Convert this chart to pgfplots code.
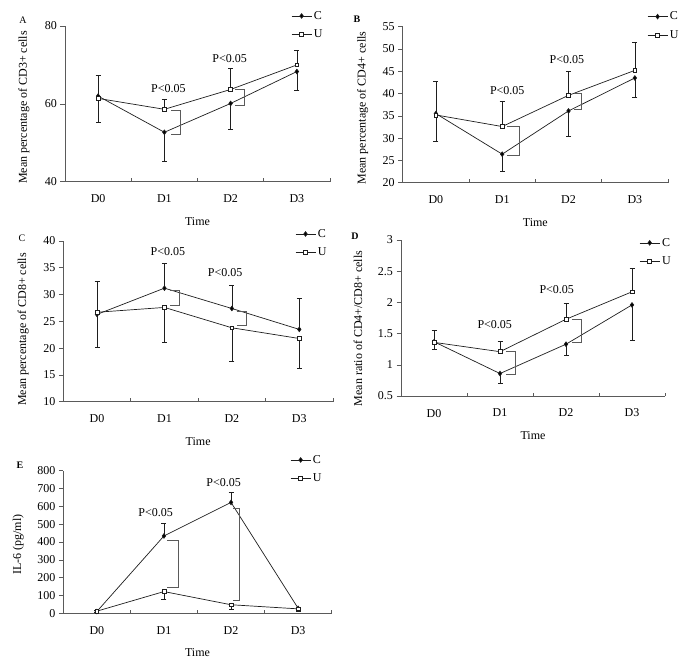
\documentclass[border=0pt]{standalone}
\usepackage{fontspec}
\setmainfont{Liberation Serif}
\usepackage{pgfplots}
\pgfplotsset{compat=1.18}
\definecolor{ln}{HTML}{1E1E1E}
\definecolor{ax}{HTML}{5A5A5A}
\pgfplotsset{
  panel/.style={
    scale only axis,
    axis lines*=left,
    axis line style={ax, line width=0.6pt},
    xmin=0, xmax=4,
    xtick={0.5,1.5,2.5,3.5},
    xticklabels={D0,D1,D2,D3},
    xtick style={draw=none},
    ytick style={ax, line width=0.6pt},
    tick align=outside,
    major tick length=4.5pt,
    font=\fontsize{12}{14}\selectfont,
    /pgf/number format/assume math mode=true,
    xticklabel style={yshift=-5pt},
    xlabel={Time},
    xlabel style={at={([yshift=-39.5pt]axis description cs:0.5,0)}, anchor=center},
    clip=false,
    legend style={draw=none, fill=none, anchor=north west, inner sep=0pt, row sep=5pt,
      font=\fontsize{12}{13}\selectfont, cells={anchor=west}},
    legend image code/.code={\draw[mark repeat=2,mark phase=2] plot coordinates {(0pt,0pt)(10pt,0pt)(20pt,0pt)};},
    after end axis/.code={\foreach \rr in {0.25,0.5,0.75,1}{\draw[ax, line width=0.6pt] (rel axis cs:\rr,0) -- ++(0,3.5pt);}},
  },
  cser/.style={ln, line width=0.7pt, mark=diamond*, mark size=2.3pt, mark options={fill=black, solid}},
  user/.style={ln, line width=0.7pt, mark=square*, mark size=1.9pt, mark options={fill=white, solid}},
  ebplus/.style={error bars/.cd, y dir=plus, y explicit, error mark=-, error mark options={rotate=90, ln, mark size=2.5pt, line width=0.6pt}, error bar style={ln, line width=0.6pt}},
  ebminus/.style={error bars/.cd, y dir=minus, y explicit, error mark=-, error mark options={rotate=90, ln, mark size=2.5pt, line width=0.6pt}, error bar style={ln, line width=0.6pt}},
  brk/.style={ax, line width=0.8pt, no marks, forget plot},
}
\newcommand{\pl}{P<0.05}
\begin{document}
\begin{tikzpicture}
\useasboundingbox (0,0) rectangle (685pt,-664pt);
\node[font=\fontsize{10}{11}\selectfont] at (23pt,-20pt) {A};
\node[font=\fontsize{10}{11}\selectfont\bfseries] at (357pt,-19pt) {B};
\node[font=\fontsize{10}{11}\selectfont] at (22pt,-238pt) {C};
\node[font=\fontsize{10}{11}\selectfont\bfseries] at (355pt,-236pt) {D};
\node[font=\fontsize{10}{11}\selectfont\bfseries] at (20pt,-465pt) {E};

% Panel A
\begin{axis}[panel, at={(65pt,-181.7pt)}, anchor=south west, width=265pt, height=155.7pt,
  ymin=40, ymax=80, ytick={40,60,80},
  ylabel={Mean percentage of CD3+ cells},
  ylabel style={at={([xshift=-41pt]axis description cs:0,0.477)}, anchor=center},
  legend style={at={(axis description cs:0.853,1.109)}}]
\addplot[cser, ebminus] coordinates {(0.5,62.0) +- (0,6.7) (1.5,52.7) +- (0,7.4) (2.5,60.1) +- (0,6.7) (3.5,68.3) +- (0,4.7)};
\addplot[user, ebplus] coordinates {(0.5,61.4) +- (0,6.0) (1.5,58.6) +- (0,2.6) (2.5,63.7) +- (0,5.4) (3.5,70.0) +- (0,3.8)};
\legend{C,U}
\addplot[brk] coordinates {(1.606,58.2) (1.742,58.2) (1.742,52.2) (1.606,52.2)};
\addplot[brk] coordinates {(2.57,63.6) (2.71,63.6) (2.71,59.7) (2.57,59.7)};
\node at (axis cs:1.56,64.0) {\pl};
\node at (axis cs:2.485,71.7) {\pl};
\end{axis}

% Panel B
\begin{axis}[panel, at={(402.7pt,-182.7pt)}, anchor=south west, width=265.3pt, height=156pt,
  ymin=20, ymax=55, ytick={20,25,...,55},
  ylabel={Mean percentage of CD4+ cells},
  ylabel style={at={([xshift=-40pt]axis description cs:0,0.479)}, anchor=center},
  legend style={at={(axis description cs:0.921,1.109)}}]
\addplot[cser, ebminus] coordinates {(0.5,35.5) +- (0,6.3) (1.5,26.4) +- (0,3.9) (2.5,36.1) +- (0,5.6) (3.5,43.5) +- (0,4.4)};
\addplot[user, ebplus] coordinates {(0.5,35.2) +- (0,7.5) (1.5,32.6) +- (0,5.6) (2.5,39.6) +- (0,5.5) (3.5,45.2) +- (0,6.4)};
\legend{C,U}
\addplot[brk] coordinates {(1.576,32.7) (1.752,32.7) (1.752,26.2) (1.576,26.2)};
\addplot[brk] coordinates {(2.576,40.0) (2.70,40.0) (2.70,36.5) (2.576,36.5)};
\node at (axis cs:1.576,40.6) {\pl};
\node at (axis cs:2.475,47.7) {\pl};
\end{axis}

% Panel C
\begin{axis}[panel, at={(63.3pt,-401.7pt)}, anchor=south west, width=269.7pt, height=160.7pt,
  ymin=10, ymax=40, ytick={10,15,...,40},
  ylabel={Mean percentage of CD8+ cells},
  ylabel style={at={([xshift=-40pt]axis description cs:0,0.45)}, anchor=center},
  legend style={at={(axis description cs:0.859,1.087)}}]
\addplot[cser, ebplus] coordinates {(0.5,26.3) +- (0,6.1) (1.5,31.2) +- (0,4.7) (2.5,27.4) +- (0,4.4) (3.5,23.5) +- (0,5.8)};
\addplot[user, ebminus] coordinates {(0.5,26.7) +- (0,6.6) (1.5,27.6) +- (0,6.5) (2.5,23.8) +- (0,6.2) (3.5,21.8) +- (0,5.5)};
\legend{C,U}
\addplot[brk] coordinates {(1.58,30.7) (1.727,30.7) (1.727,27.9) (1.58,27.9)};
\addplot[brk] coordinates {(2.57,26.9) (2.71,26.9) (2.71,24.2) (2.57,24.2)};
\node at (axis cs:1.55,38.0) {\pl};
\node at (axis cs:2.4,34.1) {\pl};
\end{axis}

% Panel D
\begin{axis}[panel, at={(401pt,-396pt)}, anchor=south west, width=264pt, height=156pt,
  ymin=0.5, ymax=3, ytick={0.5,1,1.5,2,2.5,3}, yticklabels={0.5,1,1.5,2,2.5,3},
  ylabel={Mean ratio of CD4+/CD8+ cells},
  ylabel style={at={([xshift=-43pt]axis description cs:0,0.433)}, anchor=center},
  legend style={at={(axis description cs:0.902,1.026)}}]
\addplot[cser, ebminus] coordinates {(0.5,1.37) +- (0,0.12) (1.5,0.86) +- (0,0.16) (2.5,1.33) +- (0,0.17) (3.5,1.96) +- (0,0.56)};
\addplot[user, ebplus] coordinates {(0.5,1.36) +- (0,0.20) (1.5,1.21) +- (0,0.17) (2.5,1.73) +- (0,0.255) (3.5,2.17) +- (0,0.375)};
\legend{C,U}
\addplot[brk] coordinates {(1.59,1.21) (1.737,1.21) (1.737,0.84) (1.59,0.84)};
\addplot[brk] coordinates {(2.59,1.72) (2.73,1.72) (2.73,1.36) (2.59,1.36)};
\node at (axis cs:1.42,1.65) {\pl};
\node at (axis cs:2.36,2.2) {\pl};
\end{axis}

% Panel E
\begin{axis}[panel, at={(63.3pt,-613.3pt)}, anchor=south west, width=268.4pt, height=142.6pt,
  ymin=0, ymax=800, ytick={0,100,...,800},
  ylabel={IL-6 (pg/ml)},
  ylabel style={at={([xshift=-45pt]axis description cs:0,0.482)}, anchor=center},
  legend style={at={(axis description cs:0.845,1.124)}}]
\addplot[cser, ebplus] coordinates {(0.5,10) +- (0,5) (1.5,434) +- (0,71) (2.5,622) +- (0,55) (3.5,28) +- (0,8)};
\addplot[user, ebminus] coordinates {(0.5,12) +- (0,5) (1.5,122) +- (0,45) (2.5,48) +- (0,25) (3.5,25) +- (0,12)};
\legend{C,U}
\addplot[brk] coordinates {(1.55,411) (1.71,411) (1.71,148) (1.55,148)};
\addplot[brk] coordinates {(2.535,589) (2.63,589) (2.63,75) (2.535,75)};
\node at (axis cs:1.375,564) {\pl};
\node at (axis cs:2.39,733) {\pl};
\end{axis}
\end{tikzpicture}
\end{document}
